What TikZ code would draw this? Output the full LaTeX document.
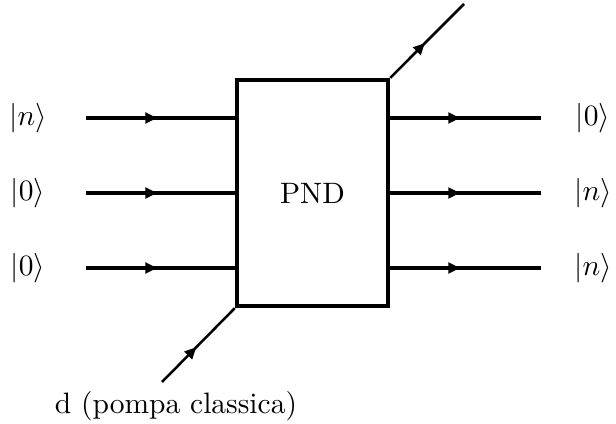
\documentclass[tikz,border=0pt]{standalone}
\usetikzlibrary{arrows.meta,decorations.markings}
\begin{document}
\begin{tikzpicture}[x=0.339pt,y=-0.339pt,
  beam/.style={line width=1.1pt,
    postaction={decorate,decoration={markings,
      mark=at position 0.47 with {\arrow{Triangle[length=3.9pt,width=3.6pt]}}}}},
  diagbeam/.style={beam,line width=0.85pt},
  device/.style={draw,line width=1.45pt,rectangle,minimum width=51.2pt,
    minimum height=76.6pt,inner sep=0pt},
  state/.style={inner sep=0pt}]
  \useasboundingbox (0,0) rectangle (616,424);

  % the device
  \node[device] (pnd) at (312.5,193) {PND};

  % input and output ports on the box
  \coordinate (in1) at (237,118);
  \coordinate (in2) at (237,193);
  \coordinate (in3) at (237,268);
  \coordinate (out1) at (388,118);
  \coordinate (out2) at (388,193);
  \coordinate (out3) at (388,268);

  % free ends of the beams
  \coordinate (s1) at (86,118);
  \coordinate (s2) at (86,193);
  \coordinate (s3) at (86,268);
  \coordinate (e1) at (541,118);
  \coordinate (e2) at (541,193);
  \coordinate (e3) at (541,268);
  \coordinate (pumpstart) at (162,382);
  \coordinate (idlerend) at (464,4);

  % state labels
  \node[state] (ln) at (28,118) {$|n\rangle$};
  \node[state] (l0a) at (28,193) {$|0\rangle$};
  \node[state] (l0b) at (28,268) {$|0\rangle$};
  \node[state] (r0) at (593,118) {$|0\rangle$};
  \node[state] (rna) at (593,193) {$|n\rangle$};
  \node[state] (rnb) at (593,268) {$|n\rangle$};
  \node[state] (pump) at (176,406) {d (pompa classica)};

  % beams
  \draw[beam] (s1) -- (in1);
  \draw[beam] (s2) -- (in2);
  \draw[beam] (s3) -- (in3);
  \draw[beam] (out1) -- (e1);
  \draw[beam] (out2) -- (e2);
  \draw[beam] (out3) -- (e3);
  \draw[diagbeam] (pumpstart) -- (pnd.south west);
  \draw[diagbeam] (pnd.north east) -- (idlerend);
\end{tikzpicture}
\end{document}
